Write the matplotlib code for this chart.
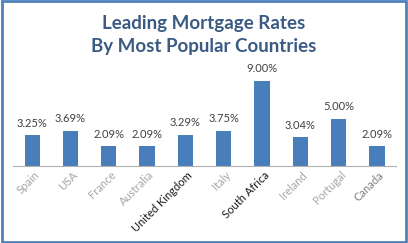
import matplotlib.pyplot as plt
from matplotlib.patches import Rectangle
from matplotlib.transforms import offset_copy

countries = ['Spain', 'USA', 'France', 'Australia', 'United Kingdom',
             'Italy', 'South Africa', 'Ireland', 'Portugal', 'Canada']
rates = [3.25, 3.69, 2.09, 2.09, 3.29, 3.75, 9.00, 3.04, 5.00, 2.09]
label_colors = ['#a6a6a6', '#a6a6a6', '#a6a6a6', '#a6a6a6', '#1a1a1a',
                '#a6a6a6', '#1a1a1a', '#a6a6a6', '#a6a6a6', '#808080']

plt.rcParams['font.family'] = ['Lato', 'DejaVu Sans']

fig = plt.figure(figsize=(4.08, 2.43), dpi=100)
ax = fig.add_axes([0.032, 0.317, 0.939, 0.389])

x = list(range(len(countries)))
bars = ax.bar(x, rates, width=0.4, color='#4a7ebb')
for b, r in zip(bars, rates):
    ax.text(b.get_x() + b.get_width() / 2, r + 0.7, f'{r:.2f}%',
            ha='center', va='bottom', fontsize=8, color='#404040')

ax.set_xlim(-0.5, 9.5)
ax.set_ylim(0, 10)
ax.set_yticks([])
ax.set_xticks([])

# rotated category labels under each bar
trans = offset_copy(ax.get_xaxis_transform(), fig=fig, x=1, y=-2.5, units='points')
for xi, name, c in zip(x, countries, label_colors):
    ax.text(xi, 0, name, transform=trans, rotation=45, rotation_mode='anchor',
            ha='right', va='top', fontsize=8, color=c)

for s in ['top', 'right', 'left']:
    ax.spines[s].set_visible(False)
ax.spines['bottom'].set_color('#b0b0b0')

fig.text(0.5, 0.905, 'Leading Mortgage Rates', ha='center', va='center',
         fontsize=13.5, fontweight='bold', color='#3b5b84')
fig.text(0.5, 0.81, 'By Most Popular Countries', ha='center', va='center',
         fontsize=13.5, fontweight='bold', color='#3b5b84')

fig.patches.append(Rectangle((0.004, 0.006), 0.992, 0.988, transform=fig.transFigure,
                             fill=False, edgecolor='#4f81bd', linewidth=2))

fig.savefig('out.png', dpi=100)
